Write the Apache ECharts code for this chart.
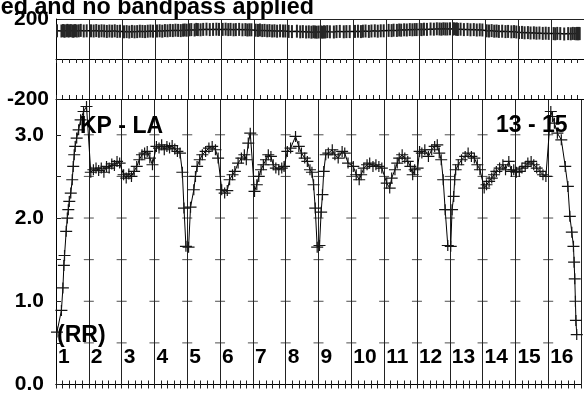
<!DOCTYPE html>
<html><head><meta charset="utf-8">
<script src="https://cdn.jsdelivr.net/npm/echarts@6/dist/echarts.min.js"></script>
<style>html,body{margin:0;padding:0;background:#fff}#c{width:584px;height:395px}</style>
</head><body><div id="c"></div>
<script>
// ---- data ----
const boxLabels = ['1','2','3','4','5','6','7','8','9','10','11','12','13','14','15','16'];
const ampTicks = [0.5, 1.0, 1.5, 2.0, 2.5, 3.0];
const titleText = 'ed and no bandpass applied';
const baselineText = 'KP - LA';
const channelText = '13 - 15';
const stokesText = '(RR)';

// time within each box (fraction of the box)
const boxTimes = [
  [0.03,0.165,0.21,0.24,0.26,0.31,0.345,0.375,0.405,0.45,0.495,0.525,0.555,0.585,0.63,0.69,0.75,0.84,0.93],
  [0.06,0.14,0.22,0.3,0.38,0.46,0.54,0.62,0.7,0.78,0.86,0.94],
  [0.06,0.14,0.22,0.3,0.38,0.46,0.54,0.62,0.7,0.78,0.86,0.94],
  [0.06,0.14,0.22,0.3,0.38,0.46,0.54,0.62,0.7,0.78,0.85,0.9,0.96],
  [0.04,0.1,0.2,0.25,0.3,0.38,0.46,0.56,0.66,0.76,0.86,0.94],
  [0.05,0.14,0.22,0.29,0.38,0.45,0.55,0.65,0.74,0.8,0.86,0.92],
  [0.05,0.12,0.18,0.25,0.32,0.4,0.47,0.55,0.62,0.7,0.79,0.88,0.95],
  [0.05,0.15,0.3,0.4,0.48,0.58,0.66,0.74,0.8,0.85,0.9,0.96],
  [0.03,0.08,0.12,0.16,0.22,0.3,0.42,0.5,0.6,0.72,0.8,0.9],
  [0.06,0.15,0.24,0.3,0.38,0.48,0.56,0.66,0.75,0.84,0.93],
  [0.08,0.17,0.23,0.33,0.4,0.46,0.55,0.63,0.72,0.8,0.87,0.93],
  [0.02,0.08,0.15,0.24,0.35,0.45,0.54,0.62,0.68,0.74,0.8,0.86,0.94],
  [0.03,0.07,0.12,0.15,0.18,0.26,0.36,0.47,0.56,0.66,0.75,0.84,0.92],
  [0.05,0.12,0.2,0.28,0.35,0.42,0.52,0.62,0.7,0.8,0.88,0.95],
  [0.03,0.12,0.2,0.3,0.38,0.48,0.56,0.65,0.75,0.84,0.93],
  [0.08,0.13,0.19,0.28,0.4,0.52,0.6,0.66,0.72,0.77,0.79,0.81,0.83,0.845,0.87]
];
// amplitude
const boxAmps = [
  [0.63,0.89,1.16,1.43,1.55,1.84,2.0,2.1,2.2,2.3,2.46,2.62,2.76,2.86,2.96,3.06,3.18,3.28,3.34],
  [2.55,2.58,2.6,2.57,2.6,2.55,2.62,2.6,2.65,2.63,2.68,2.66],
  [2.52,2.48,2.53,2.5,2.56,2.62,2.7,2.76,2.78,2.8,2.72,2.64],
  [2.86,2.84,2.88,2.82,2.86,2.84,2.87,2.83,2.8,2.78,2.55,2.12,1.66],
  [1.65,2.13,2.34,2.5,2.62,2.7,2.76,2.8,2.84,2.86,2.82,2.72],
  [2.34,2.3,2.33,2.46,2.52,2.56,2.66,2.72,2.76,2.7,2.9,3.02],
  [2.32,2.4,2.5,2.58,2.64,2.7,2.76,2.74,2.64,2.6,2.58,2.6,2.62],
  [2.8,2.84,2.98,2.86,2.78,2.72,2.68,2.58,2.55,2.4,2.12,1.65],
  [1.67,2.07,2.28,2.56,2.76,2.78,2.82,2.76,2.72,2.8,2.78,2.66],
  [2.62,2.52,2.46,2.52,2.6,2.64,2.66,2.62,2.64,2.62,2.6],
  [2.42,2.36,2.48,2.58,2.66,2.72,2.76,2.72,2.68,2.62,2.52,2.58],
  [2.6,2.8,2.78,2.82,2.74,2.82,2.86,2.88,2.78,2.7,2.46,2.1,1.67],
  [1.66,2.1,2.26,2.46,2.58,2.64,2.7,2.74,2.78,2.74,2.72,2.64,2.58],
  [2.36,2.4,2.44,2.48,2.52,2.56,2.6,2.64,2.58,2.68,2.56,2.58],
  [2.55,2.56,2.6,2.62,2.66,2.68,2.64,2.6,2.56,2.52,2.5],
  [3.28,3.22,3.14,3.02,2.94,2.62,2.38,2.02,1.83,1.66,1.47,1.27,1.0,0.77,0.6]
];
// phase (degrees)
const boxPhases = [
  [141,140,142,141,139,141,143,140,141,142,140,139,141,142,140,141,143,140,141],
  [141,140,142,139,141,140,138,140,139,141,138,139],
  [136,137,135,138,136,137,139,138,137,139,140,139],
  [140,141,139,142,141,143,142,144,143,142,144,145,144],
  [146,147,145,148,147,146,148,149,147,148,149,148],
  [148,149,147,148,146,147,148,146,147,145,146,146],
  [144,143,145,142,143,141,142,140,141,139,141,140,140],
  [138,137,139,136,137,135,136,134,136,135,134,135],
  [135,134,136,135,137,136,135,137,138,136,137,137],
  [138,139,137,139,140,138,140,141,139,141,141],
  [143,142,144,143,145,144,146,145,147,146,147,147],
  [148,147,149,148,150,149,151,150,149,151,150,150,151],
  [150,151,149,150,148,149,147,148,146,147,145,146,145],
  [141,140,142,139,140,138,139,137,138,136,137,135],
  [132,133,131,132,130,131,129,130,128,129,128],
  [127,126,128,127,125,127,126,128,127,126,128,127,126,128,127]
];

// ---- build ----
const FONT = '"Liberation Sans", Arial, Helvetica, sans-serif';
const ampData = [], phaseData = [];
boxTimes.forEach((ts, b) => ts.forEach((t, i) => {
  ampData.push([b + t, boxAmps[b][i]]);
  phaseData.push([b + t, boxPhases[b][i]]);
}));
const crossData = [];
for (let k = 1; k < boxLabels.length; k++) ampTicks.forEach(v => crossData.push([k, v]));

const PLUS = 'path://M0,4.9H5.4V0H6.6V4.9H12V6.1H6.6V11H5.4V6.1H0Z';
const nB = boxLabels.length;

function xAx(grid, pos, extra) {
  return Object.assign({
    type: 'value', gridIndex: grid, position: pos, min: 0, max: nB, interval: 1,
    axisLine: {show: true, lineStyle: {color: '#000', width: 1}},
    axisTick: {show: true, inside: true, length: 4, lineStyle: {color: '#222'}},
    minorTick: {show: true, splitNumber: 5, length: 4, lineStyle: {color: '#222'}},
    axisLabel: {show: false},
    splitLine: {show: false}
  }, extra || {});
}

const chart = echarts.init(document.getElementById('c'), null, {renderer: 'canvas'});
chart.setOption({
  animation: false,
  backgroundColor: '#fff',
  grid: [
    {left: 56, top: 19, width: 533.33, height: 80},
    {left: 56, top: 99, width: 533.33, height: 287}
  ],
  xAxis: [
    xAx(0, 'top', {splitLine: {show: true, lineStyle: {color: '#222', width: 1}}}),
    xAx(0, 'bottom'),
    xAx(1, 'top'),
    xAx(1, 'bottom', {
      splitLine: {show: true, lineStyle: {color: '#222', width: 1}},
      axisLabel: {
        show: true, inside: true, margin: 27, align: 'left', verticalAlign: 'middle',
        padding: [0, 0, 0, 2],
        fontFamily: FONT, fontWeight: 'bold', fontSize: 21, color: '#000',
        formatter: v => (v >= 0 && v < nB) ? boxLabels[Math.round(v)] : ''
      }
    })
  ],
  yAxis: [
    {
      type: 'value', gridIndex: 0, min: -200, max: 200, interval: 200,
      axisLine: {show: true, lineStyle: {color: '#000'}},
      axisTick: {show: false},
      axisLabel: {margin: 7, fontFamily: FONT, fontWeight: 'bold', fontSize: 21, color: '#000',
        formatter: v => v === 0 ? '' : String(v)},
      splitLine: {show: true, lineStyle: {color: '#222', width: 1}}
    },
    {
      type: 'value', gridIndex: 1, min: 0, max: 3.43, interval: 0.5,
      axisLine: {show: true, lineStyle: {color: '#000'}},
      axisTick: {show: true, inside: true, length: 5, lineStyle: {color: '#222'}},
      axisLabel: {margin: 12, fontFamily: FONT, fontWeight: 'bold', fontSize: 21, color: '#000',
        formatter: v => (Math.abs(v - Math.round(v)) < 1e-9) ? v.toFixed(1) : ''},
      splitLine: {show: false}
    }
  ],
  series: [
    {
      type: 'scatter', xAxisIndex: 3, yAxisIndex: 1, data: crossData, silent: true,
      symbol: 'rect', symbolSize: [10, 1], itemStyle: {color: '#222'}, z: 1
    },
    {
      type: 'line', xAxisIndex: 0, yAxisIndex: 0, data: phaseData, silent: true,
      symbol: 'rect', symbolSize: [2, 13], showAllSymbol: true,
      itemStyle: {color: '#262626'}, lineStyle: {color: '#000', width: 1.5}, z: 3
    },
    {
      type: 'line', xAxisIndex: 3, yAxisIndex: 1, data: ampData, silent: true,
      symbol: PLUS, symbolSize: [12, 11], showAllSymbol: true,
      itemStyle: {color: '#141414'}, lineStyle: {color: '#000', width: 1}, z: 3
    }
  ],
  graphic: [
    {type: 'text', x: 314, y: 8, z: 10, style: {text: titleText, fontFamily: FONT, fontWeight: 'bold', fontSize: 23.3, fill: '#000', align: 'right', verticalAlign: 'middle'}},
    {type: 'text', x: 80, y: 126.5, z: 10, style: {text: baselineText, fontFamily: FONT, fontWeight: 'bold', fontSize: 23, fill: '#000', align: 'left', verticalAlign: 'middle'}},
    {type: 'text', x: 496, y: 126, z: 10, style: {text: channelText, fontFamily: FONT, fontWeight: 'bold', fontSize: 23, fill: '#000', align: 'left', verticalAlign: 'middle'}},
    {type: 'text', x: 57, y: 335.5, z: 10, style: {text: stokesText, fontFamily: FONT, fontWeight: 'bold', fontSize: 23, fill: '#000', align: 'left', verticalAlign: 'middle'}}
  ]
});
</script>
</body></html>
